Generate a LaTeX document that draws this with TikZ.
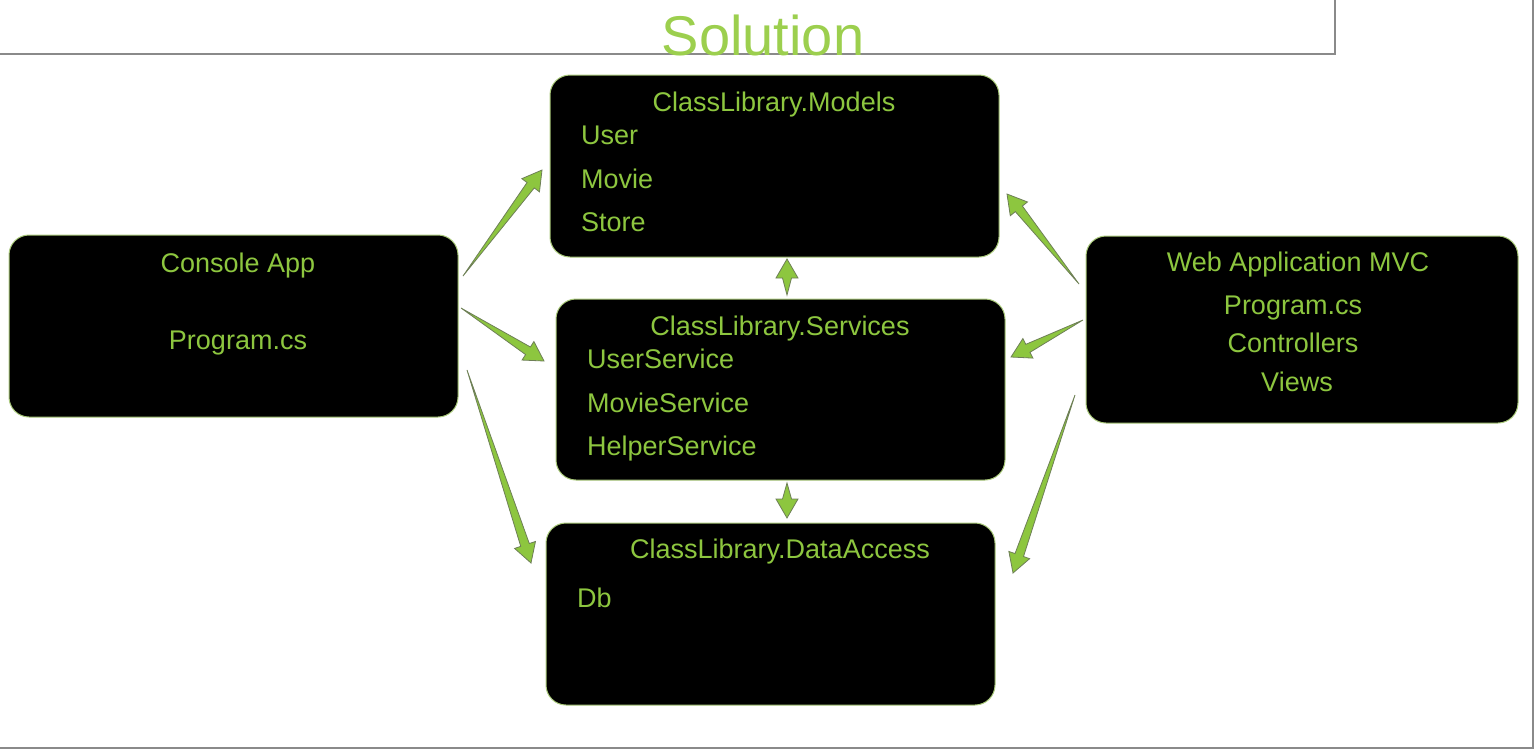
\documentclass[tikz,border=0pt]{standalone}
\usepackage{fontspec}
\setmainfont{Liberation Sans}
\usetikzlibrary{calc}
\definecolor{leaf}{HTML}{8DC63F}
\definecolor{leaflight}{HTML}{9CCF4E}
\definecolor{leafedge}{HTML}{A9C97A}
\definecolor{wedgeedge}{HTML}{6E7F57}
\definecolor{framegray}{HTML}{8A8A8A}
\tikzset{
  libbox/.style={fill=black,draw=leafedge,line width=1pt,rounded corners=20pt,inner sep=0pt,outer sep=0pt},
  lbl/.style={text=leaf,font=\fontsize{27}{32}\selectfont,inner sep=0pt},
  arrowwedge/.style={fill=leaf,draw=wedgeedge,line width=0.8pt,line join=miter}
}
\newcommand{\wedgearrow}[2]{%
  \filldraw[arrowwedge] (#1)
    -- ($(#2)!19pt!(#1)!4.5pt!90:(#2)$)
    -- ($(#2)!19pt!(#1)!11pt!90:(#2)$)
    -- (#2)
    -- ($(#2)!19pt!(#1)!11pt!-90:(#2)$)
    -- ($(#2)!19pt!(#1)!4.5pt!-90:(#2)$)
    -- cycle;}
\begin{document}
\begin{tikzpicture}[x=1pt,y=-1pt]
  \useasboundingbox (0,0) rectangle (1537,750);
  \draw[framegray,line width=1.5pt] (0,54) -- (1335,54) -- (1335,0);
  \draw[framegray,line width=1.5pt] (0,748) -- (1533,748) -- (1533,0);
  \node[font=\fontsize{56}{60}\selectfont,text=leaflight,anchor=base,inner sep=0pt] (title) at (763,55) {Solution};

  \node[libbox,minimum width=449pt,minimum height=182pt] (models) at (774.5,166) {};
  \node[libbox,minimum width=449pt,minimum height=182pt] (console) at (233.5,326) {};
  \node[libbox,minimum width=432pt,minimum height=187pt] (web) at (1302,329.5) {};
  \node[libbox,minimum width=449pt,minimum height=181pt] (services) at (780.5,389.5) {};
  \node[libbox,minimum width=449pt,minimum height=182pt] (data) at (770.5,614) {};

  \node[lbl,anchor=base] (modelsT) at (774,111) {ClassLibrary.Models};
  \node[lbl,anchor=base west] (user) at (581,144) {User};
  \node[lbl,anchor=base west] (movie) at (581,188) {Movie};
  \node[lbl,anchor=base west] (store) at (581,231) {Store};

  \node[lbl,anchor=base] (consoleT) at (238,272) {Console App};
  \node[lbl,anchor=base] (consoleP) at (238,349) {Program.cs};

  \node[lbl,anchor=base] (webT) at (1298,271) {Web Application MVC};
  \node[lbl,anchor=base] (webP) at (1293,314) {Program.cs};
  \node[lbl,anchor=base] (webC) at (1293,352) {Controllers};
  \node[lbl,anchor=base] (webV) at (1297,391) {Views};

  \node[lbl,anchor=base] (servicesT) at (780,335) {ClassLibrary.Services};
  \node[lbl,anchor=base west] (userS) at (587,368) {UserService};
  \node[lbl,anchor=base west] (movieS) at (587,412) {MovieService};
  \node[lbl,anchor=base west] (helperS) at (587,455) {HelperService};

  \node[lbl,anchor=base] (dataT) at (780,558) {ClassLibrary.DataAccess};
  \node[lbl,anchor=base west] (db) at (577,607) {Db};

  \coordinate (conM) at (463,276);  \coordinate (modC) at (542,170);
  \coordinate (conS) at (461,308);  \coordinate (serC) at (544,361);
  \coordinate (conD) at (467,370);  \coordinate (datC) at (531,563);
  \coordinate (webM) at (1079,284); \coordinate (modW) at (1007,194);
  \coordinate (webS) at (1083,320); \coordinate (serW) at (1011,357);
  \coordinate (webD) at (1075,395); \coordinate (datW) at (1013,573);
  \coordinate (serM) at (787,295);  \coordinate (modS) at (787,259);
  \coordinate (serD) at (787,483);  \coordinate (datS) at (787,518);

  \wedgearrow{conM}{modC}
  \wedgearrow{conS}{serC}
  \wedgearrow{conD}{datC}
  \wedgearrow{webM}{modW}
  \wedgearrow{webS}{serW}
  \wedgearrow{webD}{datW}
  \wedgearrow{serM}{modS}
  \wedgearrow{serD}{datS}
\end{tikzpicture}
\end{document}
